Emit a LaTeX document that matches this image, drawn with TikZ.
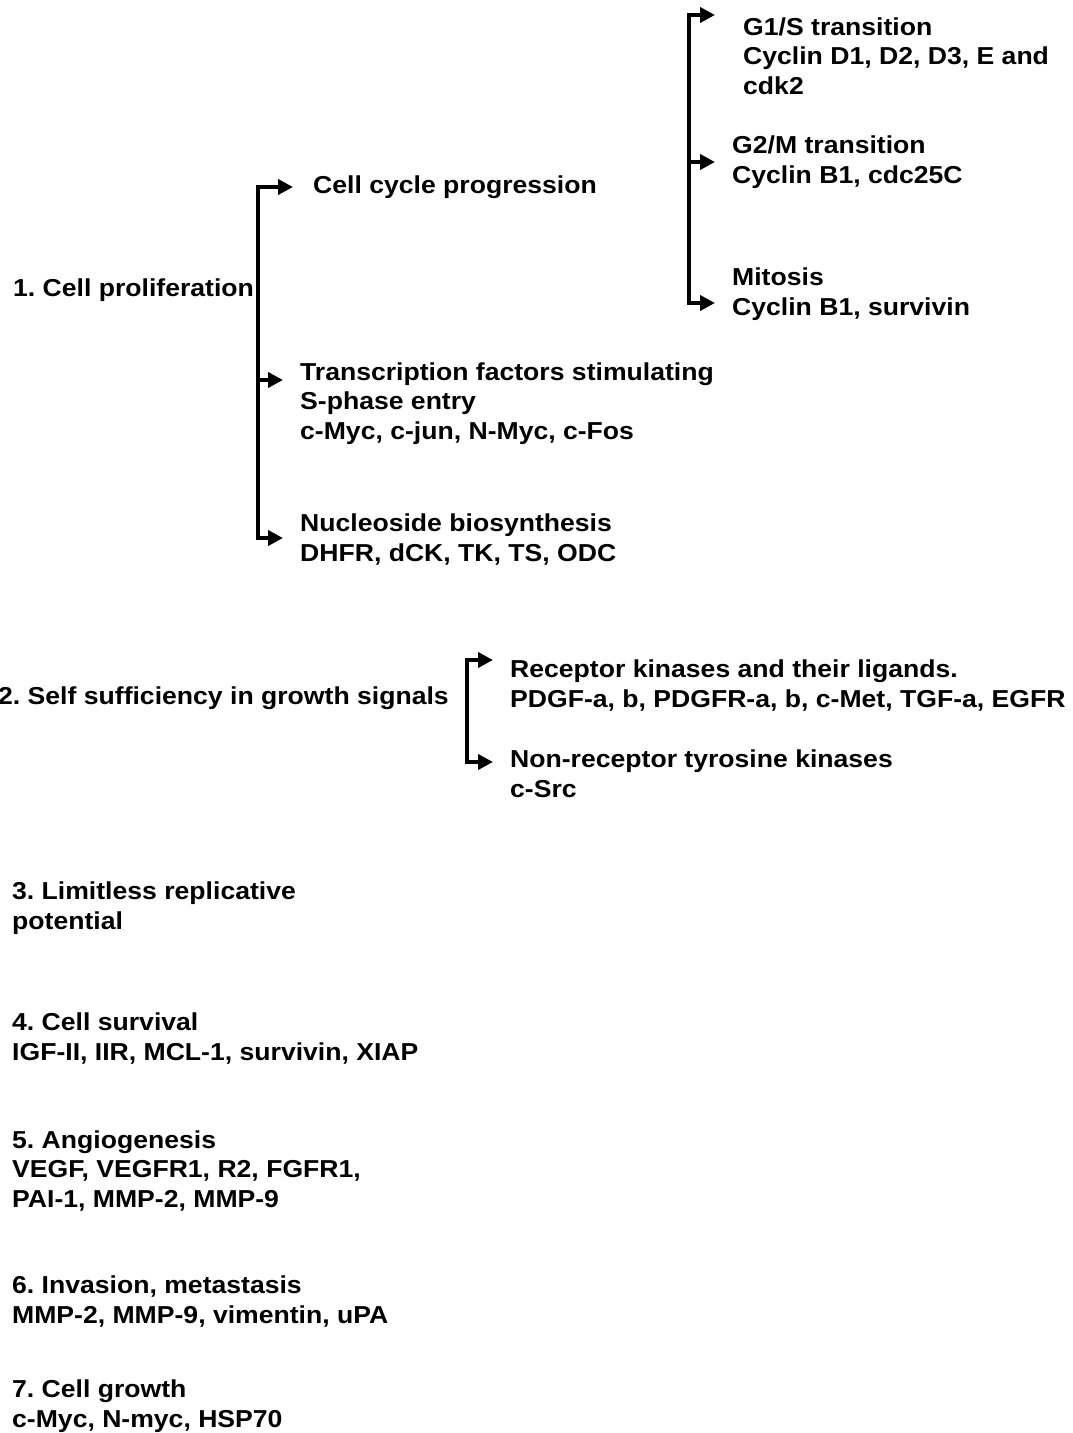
\documentclass[tikz,border=0pt]{standalone}
\usepackage{fontspec}
\setmainfont{Liberation Sans}[FakeStretch=1.085]
\usetikzlibrary{arrows.meta}
\frenchspacing

\begin{document}
\begin{tikzpicture}[x=1pt,y=-1pt,
	lbl/.style={anchor=base west, inner sep=0pt, align=left,
		font=\fontsize{24.5}{29.5}\selectfont\bfseries},
	brk/.style={line width=4.5pt, -{Triangle[length=15pt,width=15pt]}},
	brktwo/.style={line width=4.5pt, {Triangle[length=15pt,width=15pt]}-{Triangle[length=15pt,width=15pt]}}]
	%\draw[help lines] (0,0) grid[step=50] (1072,1433);
	\useasboundingbox (0,0) rectangle (1072,1433);
	
	% hallmarks (base = last line)
	\node[lbl] (prolif) at (13,296) {1. Cell proliferation};
	\node[lbl] (selfsuff) at (-2,704) {2. Self sufficiency in growth signals};
	\node[lbl] (limitless) at (12,929) {3. Limitless replicative\\potential};
	\node[lbl] (survival) at (12,1060) {4. Cell survival\\IGF-II, IIR, MCL-1, survivin, XIAP};
	\node[lbl] (angio) at (12,1207) {5. Angiogenesis\\VEGF, VEGFR1, R2, FGFR1,\\PAI-1, MMP-2, MMP-9};
	\node[lbl] (invasion) at (12,1323) {6. Invasion, metastasis\\MMP-2, MMP-9, vimentin, uPA};
	\node[lbl] (growth) at (12,1427) {7. Cell growth\\c-Myc, N-myc, HSP70};
	
	% proliferation branches
	\node[lbl] (cellcycle) at (313,193) {Cell cycle progression};
	\node[lbl] (transcr) at (300,439) {Transcription factors stimulating\\S-phase entry\\c-Myc, c-jun, N-Myc, c-Fos};
	\node[lbl] (nucleo) at (300,561) {Nucleoside biosynthesis\\DHFR, dCK, TK, TS, ODC};
	
	% cell cycle branches
	\node[lbl] (gone) at (743,94) {G1/S transition\\Cyclin D1, D2, D3, E and\\cdk2};
	\node[lbl] (gtwo) at (732,183) {G2/M transition\\Cyclin B1, cdc25C};
	\node[lbl] (mitosis) at (732,315) {Mitosis\\Cyclin B1, survivin};
	
	% growth signal branches
	\node[lbl] (receptor) at (510,707) {Receptor kinases and their ligands.\\PDGF-a, b, PDGFR-a, b, c-Met, TGF-a, EGFR};
	\node[lbl] (nonrec) at (510,797) {Non-receptor tyrosine kinases\\c-Src};
	
	\coordinate (b1top) at (258,187);
	\coordinate (b1mid) at (258,380);
	\coordinate (b1bot) at (258,538);
	\coordinate (b2top) at (689,15);
	\coordinate (b2mid) at (689,162);
	\coordinate (b2bot) at (689,303);
	\coordinate (b3top) at (467,660);
	\coordinate (b3bot) at (467,762);
	
	\draw[brktwo, shorten <=20pt, shorten >=17pt] (b1top -| cellcycle.west) -- (b1top) -- (b1bot) -- (b1bot -| nucleo.west);
	\draw[brk, shorten >=17pt] (b1mid) -- (b1mid -| transcr.west);
	
	\draw[brktwo, shorten <=28pt, shorten >=17pt] (b2top -| gone.west) -- (b2top) -- (b2bot) -- (b2bot -| mitosis.west);
	\draw[brk, shorten >=17pt] (b2mid) -- (b2mid -| gtwo.west);
	
	\draw[brktwo, shorten <=17pt, shorten >=17pt] (b3top -| receptor.west) -- (b3top) -- (b3bot) -- (b3bot -| nonrec.west);
	
\end{tikzpicture}
\end{document}
